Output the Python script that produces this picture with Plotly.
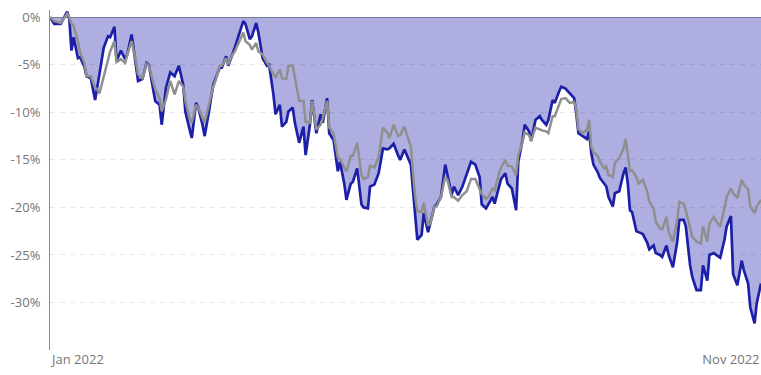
import plotly.graph_objects as go

dates = [
    "2021-12-19", "2021-12-21", "2021-12-24", "2021-12-27", "2021-12-28", "2021-12-29", "2021-12-30",
    "2022-01-01", "2022-01-02", "2022-01-04", "2022-01-05", "2022-01-07", "2022-01-09", "2022-01-10",
    "2022-01-11", "2022-01-13", "2022-01-15", "2022-01-16", "2022-01-18", "2022-01-19", "2022-01-21",
    "2022-01-23", "2022-01-24", "2022-01-26", "2022-01-28", "2022-01-29", "2022-01-31", "2022-02-02",
    "2022-02-03", "2022-02-05", "2022-02-06", "2022-02-08", "2022-02-09", "2022-02-11", "2022-02-12",
    "2022-02-13", "2022-02-15", "2022-02-17", "2022-02-19", "2022-02-20", "2022-02-22", "2022-02-23",
    "2022-02-25", "2022-02-26", "2022-02-28", "2022-03-01", "2022-03-03", "2022-03-05", "2022-03-06",
    "2022-03-08", "2022-03-09", "2022-03-11", "2022-03-12", "2022-03-14", "2022-03-15", "2022-03-17",
    "2022-03-19", "2022-03-20", "2022-03-22", "2022-03-23", "2022-03-25", "2022-03-26", "2022-03-28",
    "2022-03-30", "2022-03-31", "2022-04-02", "2022-04-03", "2022-04-05", "2022-04-06", "2022-04-08",
    "2022-04-09", "2022-04-11", "2022-04-12", "2022-04-14", "2022-04-16", "2022-04-17", "2022-04-19",
    "2022-04-20", "2022-04-22", "2022-04-24", "2022-04-25", "2022-04-27", "2022-04-28", "2022-04-30",
    "2022-05-02", "2022-05-03", "2022-05-05", "2022-05-06", "2022-05-08", "2022-05-09", "2022-05-11",
    "2022-05-13", "2022-05-14", "2022-05-16", "2022-05-17", "2022-05-19", "2022-05-21", "2022-05-23",
    "2022-05-25", "2022-05-26", "2022-05-28", "2022-05-30", "2022-05-31", "2022-06-02", "2022-06-03",
    "2022-06-05", "2022-06-06", "2022-06-07", "2022-06-08", "2022-06-10", "2022-06-11", "2022-06-13",
    "2022-06-14", "2022-06-16", "2022-06-17", "2022-06-19", "2022-06-21", "2022-06-22", "2022-06-24",
    "2022-06-25", "2022-06-27", "2022-06-29", "2022-07-01", "2022-07-03", "2022-07-05", "2022-07-07",
    "2022-07-08", "2022-07-10", "2022-07-11", "2022-07-13", "2022-07-14", "2022-07-16", "2022-07-17",
    "2022-07-19", "2022-07-20", "2022-07-22", "2022-07-24", "2022-07-25", "2022-07-27", "2022-07-28",
    "2022-07-30", "2022-07-31", "2022-08-02", "2022-08-04", "2022-08-05", "2022-08-07", "2022-08-08",
    "2022-08-10", "2022-08-11", "2022-08-13", "2022-08-14", "2022-08-16", "2022-08-18", "2022-08-20",
    "2022-08-21", "2022-08-22", "2022-08-24", "2022-08-26", "2022-08-27", "2022-08-28", "2022-08-29",
    "2022-08-31", "2022-09-01", "2022-09-03", "2022-09-04", "2022-09-05", "2022-09-07", "2022-09-08",
    "2022-09-10", "2022-09-12", "2022-09-13", "2022-09-14", "2022-09-15", "2022-09-16", "2022-09-18",
    "2022-09-19", "2022-09-21", "2022-09-23", "2022-09-24", "2022-09-26", "2022-09-27", "2022-09-29",
    "2022-09-30", "2022-10-02", "2022-10-03", "2022-10-05", "2022-10-07", "2022-10-08", "2022-10-10",
    "2022-10-11", "2022-10-13", "2022-10-14", "2022-10-16", "2022-10-18", "2022-10-19", "2022-10-21",
    "2022-10-22", "2022-10-24", "2022-10-25", "2022-10-27", "2022-10-29", "2022-10-30", "2022-11-01",
    "2022-11-02", "2022-11-04", "2022-11-06", "2022-11-07", "2022-11-09", "2022-11-10", "2022-11-12",
    "2022-11-13", "2022-11-15",
]

# drawdown of the portfolio (%), blue filled series
portfolio_dd = [
    0, -0.7, -0.7, 0.6, -0.2, -3.5, -2.1,
    -4.3, -4.2, -5.2, -6.2, -6.4, -8.7, -7.1,
    -6.0, -3.2, -2.0, -2.1, -1.0, -4.6, -3.5,
    -4.4, -3.9, -1.8, -4.9, -6.7, -6.5, -4.8,
    -5.0, -7.8, -8.8, -9.2, -11.3, -7.4, -6.6,
    -5.8, -6.2, -5.1, -7.1, -9.9, -11.8, -12.7,
    -9.0, -9.5, -11.3, -12.5, -9.9, -7.1, -6.5,
    -5.3, -5.3, -4.1, -5.1, -3.9, -3.2, -1.8,
    -0.4, -0.7, -2.3, -2.0, -0.6, -1.6, -4.3,
    -5.1, -5.0, -8.1, -10.2, -9.2, -11.5, -11.0,
    -9.9, -9.5, -11.1, -13.2, -11.5, -14.5, -11.3,
    -8.7, -12.2, -10.2, -11.1, -8.5, -12.2, -12.9,
    -16.2, -15.2, -17.5, -19.2, -17.5, -17.3, -15.9,
    -19.7, -20.0, -20.1, -17.8, -17.6, -16.4, -13.8,
    -13.9, -13.8, -13.3, -14.5, -15.0, -13.9, -14.5,
    -15.5, -18.2, -21.3, -23.4, -22.9, -20.6, -22.6,
    -21.7, -19.9, -19.7, -18.9, -15.5, -16.6, -18.7,
    -17.8, -18.7, -17.8, -16.4, -15.2, -15.5, -16.8,
    -19.7, -20.1, -19.7, -18.9, -19.6, -18.0, -17.0,
    -16.4, -17.5, -18.0, -20.3, -15.2, -12.9, -11.3,
    -12.0, -13.0, -10.8, -10.4, -10.8, -11.3, -10.8,
    -8.7, -9.0, -7.8, -7.3, -7.5, -8.0, -8.5,
    -10.1, -12.2, -12.5, -12.8, -12.0, -14.3, -15.5,
    -16.3, -16.9, -17.5, -17.8, -18.9, -19.9, -18.5,
    -18.3, -16.4, -15.8, -17.5, -20.3, -20.5, -22.5,
    -22.6, -22.8, -23.7, -24.4, -24.0, -24.8, -25.0,
    -25.2, -24.0, -25.0, -26.3, -23.6, -21.3, -21.3,
    -22.0, -26.1, -27.3, -28.7, -28.7, -26.1, -27.7,
    -25.0, -24.8, -25.0, -25.3, -23.4, -22.0, -20.9,
    -27.0, -28.2, -25.6, -26.6, -28.0, -30.5, -32.2,
    -30.1, -28.0,
]

# drawdown of the benchmark (%), grey line
benchmark_dd = [
    0, -0.4, -0.6, 0.4, 0.0, -0.7, -0.9,
    -2.5, -3.7, -4.8, -6.2, -6.2, -7.4, -7.6,
    -8.0, -6.2, -4.5, -3.6, -2.5, -4.7, -4.4,
    -4.8, -3.9, -2.5, -4.6, -6.0, -6.4, -4.9,
    -5.1, -6.7, -7.6, -8.5, -9.9, -8.6, -7.5,
    -6.7, -8.1, -6.7, -7.3, -8.8, -10.6, -11.1,
    -9.2, -9.5, -10.6, -11.1, -9.2, -7.3, -6.7,
    -5.1, -5.1, -4.3, -5.0, -3.9, -3.6, -2.5,
    -1.6, -2.5, -2.9, -3.4, -2.7, -3.6, -3.9,
    -4.8, -5.1, -6.0, -6.3, -5.5, -6.4, -6.5,
    -5.1, -5.1, -6.5, -8.8, -8.8, -11.0, -11.1,
    -8.8, -11.8, -11.3, -10.6, -8.8, -11.6, -12.2,
    -14.8, -14.9, -15.8, -16.2, -14.6, -14.6, -13.2,
    -16.6, -17.0, -16.8, -15.6, -15.8, -14.7, -11.6,
    -12.1, -12.7, -11.3, -12.5, -12.4, -11.5, -12.2,
    -13.6, -16.4, -18.9, -20.4, -20.5, -19.5, -21.9,
    -21.7, -19.9, -19.9, -18.9, -16.8, -17.1, -18.9,
    -18.9, -19.3, -18.7, -18.3, -17.0, -17.0, -18.2,
    -18.6, -19.1, -18.9, -18.0, -18.2, -16.5, -15.8,
    -15.0, -15.6, -15.7, -16.6, -14.5, -13.1, -12.1,
    -12.4, -13.0, -11.6, -11.8, -11.9, -12.0, -12.2,
    -10.4, -10.4, -9.2, -8.6, -8.5, -9.0, -8.9,
    -9.7, -11.8, -12.2, -11.8, -10.8, -13.6, -14.2,
    -14.6, -15.2, -15.9, -15.7, -16.6, -16.8, -15.3,
    -14.8, -13.8, -12.8, -14.5, -16.2, -16.1, -16.8,
    -17.5, -17.1, -18.3, -19.4, -20.1, -21.5, -22.2,
    -22.3, -21.0, -22.6, -23.6, -21.3, -19.4, -19.6,
    -20.3, -22.4, -23.1, -23.6, -23.8, -22.0, -23.6,
    -21.7, -21.0, -21.4, -22.0, -20.1, -18.9, -18.0,
    -18.5, -19.0, -17.1, -17.6, -18.1, -19.9, -20.6,
    -19.9, -19.2,
]

x_tick_dates = ["2022-01-01", "2022-11-01"]
x_tick_labels = ["Jan 2022", "Nov 2022"]
y_tick_values = [0, -5, -10, -15, -20, -25, -30, -35]
y_tick_labels = ["0%", "-5%", "-10%", "-15%", "-20%", "-25%", "-30%", ""]

BLUE = "#1c1fa8"
FILL = "rgba(30,33,170,0.36)"
GREY = "#8f8f8f"

fig = go.Figure()
fig.add_trace(go.Scatter(
    x=dates, y=portfolio_dd, mode="lines", fill="tozeroy", fillcolor=FILL,
    line=dict(color=BLUE, width=2.7), showlegend=False, hoverinfo="skip",
))
fig.add_trace(go.Scatter(
    x=dates, y=benchmark_dd, mode="lines",
    line=dict(color=GREY, width=2.5), showlegend=False, hoverinfo="skip",
))

fig.update_layout(
    width=761, height=375,
    margin=dict(l=50, r=0, t=10, b=25),
    paper_bgcolor="white", plot_bgcolor="white",
    font=dict(family="Open Sans, sans-serif", size=13, color="#757575"),
)
fig.update_xaxes(
    type="date", range=[dates[0], dates[-1]],
    tickvals=x_tick_dates, ticktext=x_tick_labels,
    showgrid=False, zeroline=False, showline=False, ticks="",
)
fig.update_yaxes(
    range=[-35, 0.77],
    tickvals=y_tick_values, ticktext=y_tick_labels,
    showgrid=True, gridcolor="#e6e6e6", griddash="5px,5px", gridwidth=1,
    zeroline=True, zerolinecolor="#9a9a9a", zerolinewidth=1,
    showline=True, linecolor="#8a8a8a", linewidth=1,
    ticks="", ticklabelstandoff=6,
)

fig.write_html("out.html")
